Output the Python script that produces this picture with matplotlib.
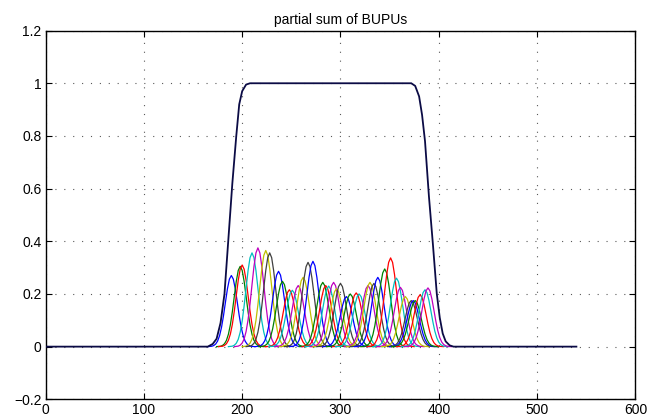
import matplotlib
matplotlib.use("Agg")
import matplotlib.pyplot as plt
import numpy as np

plt.rcParams['font.family'] = ['Liberation Sans', 'DejaVu Sans']

# partial sum curve
sum_x = [0, 165, 170, 174, 178, 182, 186, 190, 194, 197, 200, 204, 208,
         372, 376, 380, 383, 386, 390, 394, 398, 401, 404, 407, 411, 415, 540]
sum_y = [0, 0, 0.01, 0.03, 0.09, 0.2, 0.41, 0.62, 0.8, 0.92, 0.97, 0.995, 1,
         1, 0.99, 0.95, 0.88, 0.78, 0.57, 0.39, 0.2, 0.11, 0.05, 0.02, 0.005, 0, 0]

# single bumps: centre and peak height
centers = [189, 198, 200, 210, 216, 224, 228, 237, 241, 248, 251, 257, 262, 267,
           272, 282, 285, 288, 293, 296, 300, 306, 310, 316, 319, 328, 330, 334,
           338, 345, 351, 357, 361, 366, 372, 374, 376, 381, 386, 389]
heights = [0.27, 0.305, 0.31, 0.356, 0.375, 0.365, 0.356, 0.286, 0.248, 0.216,
           0.214, 0.232, 0.263, 0.32, 0.324, 0.244, 0.232, 0.23, 0.244, 0.22,
           0.24, 0.19, 0.2, 0.204, 0.2, 0.232, 0.244, 0.24, 0.263, 0.295, 0.337,
           0.26, 0.225, 0.19, 0.175, 0.175, 0.175, 0.197, 0.216, 0.223]

# bump shape (read from the first blue bump), offset vs. fraction of peak
prof_dx = [-24, -20, -18, -16, -14, -12, -10, -8, -6, -4, -2, 0,
           2, 4, 6, 8, 10, 12, 14, 16, 18, 20, 24]
prof_y = [0, 0.005, 0.015, 0.036, 0.078, 0.154, 0.272, 0.435, 0.626, 0.812, 0.949, 1,
          0.949, 0.812, 0.626, 0.435, 0.272, 0.154, 0.078, 0.036, 0.015, 0.005, 0]

matlab_colors = [(0, 0, 1), (0, 0.5, 0), (1, 0, 0), (0, 0.75, 0.75),
                 (0.75, 0, 0.75), (0.75, 0.75, 0), (0.25, 0.25, 0.25)]

fig = plt.figure(figsize=(6.51, 4.19), dpi=100)
ax = fig.add_axes([0.07, 0.047, 0.906, 0.88])
ax.set_prop_cycle(color=matlab_colors)

ax.plot(sum_x, sum_y, color='#0b0b45', lw=1.3, zorder=3)

dx = np.array(prof_dx, dtype=float)
py = np.array(prof_y, dtype=float)
for c, h in zip(centers, heights):
    ax.plot(c + dx, h * py, lw=0.9)

ax.set_xlim(0, 600)
ax.set_ylim(-0.2, 1.2)
ax.set_xticks(np.arange(0, 601, 100))
ax.set_yticks(np.arange(-0.2, 1.21, 0.2))
ax.set_yticklabels(['\u22120.2', '0', '0.2', '0.4', '0.6', '0.8', '1', '1.2'])
ax.tick_params(direction='in', length=4, top=True, right=True, labelsize=10, pad=3)
ax.grid(True, color='0.35', linestyle=(0, (1, 7)), linewidth=0.8)
for s in ax.spines.values():
    s.set_linewidth(1.0)
ax.set_title('partial sum of BUPUs', fontsize=10, pad=5)

fig.savefig('out.png', dpi=100)
